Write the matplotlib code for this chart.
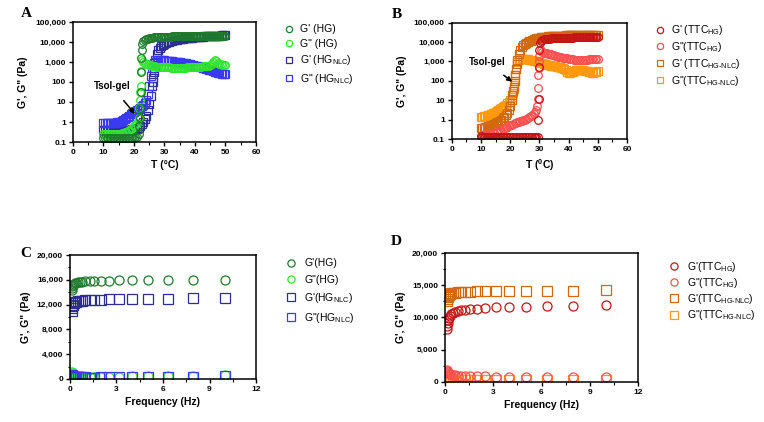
import matplotlib

matplotlib.use("Agg")
import matplotlib.pyplot as plt  # noqa: E402
import matplotlib.ticker as mticker  # noqa: E402

# temperature grid of the sweeps (deg C), 0.5 degree steps
T_sweep = [10.0, 10.5, 11.0, 11.5, 12.0, 12.5, 13.0, 13.5, 14.0, 14.5, 15.0, 15.5, 16.0, 16.5,
           17.0, 17.5, 18.0, 18.5, 19.0, 19.5, 20.0, 20.5, 21.0, 21.5, 22.0, 22.5, 23.0, 23.5,
           24.0, 24.5, 25.0, 25.5, 26.0, 26.5, 27.0, 27.5, 28.0, 28.5, 29.0, 29.5, 30.0, 30.5,
           31.0, 31.5, 32.0, 32.5, 33.0, 33.5, 34.0, 34.5, 35.0, 35.5, 36.0, 36.5, 37.0, 37.5,
           38.0, 38.5, 39.0, 39.5, 40.0, 40.5, 41.0, 41.5, 42.0, 42.5, 43.0, 43.5, 44.0, 44.5,
           45.0, 45.5, 46.0, 46.5, 47.0, 47.5, 48.0, 48.5, 49.0, 49.5, 50.0]

# ---------------- panel A: HG / HG-NLC ----------------
gp_hg_T = [0.16, 0.15, 0.15, 0.15, 0.15, 0.15, 0.15, 0.15, 0.15, 0.15, 0.15, 0.15, 0.15, 0.15,
           0.15, 0.15, 0.15, 0.15, 0.15, 0.16, 0.16, 0.17, 0.18, 0.25, 1.5, 4000, 11000, 13000,
           14000, 14800, 15500, 16000, 16400, 16800, 17100, 17400, 17600, 17800, 18000, 18200,
           18400, 18500, 18600, 18700, 18800, 18900, 19000, 19100, 19200, 19300, 19400, 19500,
           19550, 19600, 19650, 19700, 19750, 19800, 19850, 19900, 19950, 20000, 20050, 20100,
           20150, 20200, 20250, 20300, 20350, 20400, 20450, 20500, 20500, 20550, 20600, 20600,
           20650, 20700, 20700, 20750, 20800]
T_hg_gp_jump = [21.8, 22.1, 22.2, 22.3, 22.4, 22.7]
gp_hg_jump = [0.6, 5, 30, 300, 1500, 8000]

gpp_hg_T = [0.26, 0.25, 0.25, 0.25, 0.25, 0.25, 0.25, 0.25, 0.25, 0.25, 0.25, 0.26, 0.27, 0.28,
            0.3, 0.32, 0.35, 0.4, 0.45, 0.5, 0.6, 0.7, 0.9, 1.5, 12, 1300, 1000, 900, 800, 750,
            700, 680, 650, 630, 600, 590, 580, 570, 560, 555, 550, 545, 540, 535, 530, 525, 520,
            520, 520, 520, 520, 520, 525, 530, 530, 535, 540, 545, 550, 550, 555, 560, 570, 580,
            590, 600, 610, 620, 640, 660, 700, 800, 1000, 1300, 1100, 900, 800, 760, 730, 710,
            700]
T_hg_gpp_jump = [21.8, 22.1, 22.2, 22.3]
gpp_hg_jump = [5, 30, 60, 350]

gp_nlc_T = [0.42, 0.4, 0.4, 0.4, 0.4, 0.4, 0.4, 0.4, 0.4, 0.4, 0.4, 0.4, 0.4, 0.4, 0.4, 0.4,
            0.4, 0.41, 0.42, 0.43, 0.44, 0.45, 0.47, 0.5, 0.6, 0.75, 1.0, 1.4, 2, 4, 8, 20, 60,
            300, 1000, 2500, 4000, 5000, 6000, 7000, 8000, 8800, 9500, 10200, 11000, 11500,
            12000, 12500, 13000, 13500, 14000, 14400, 14800, 15200, 15500, 15800, 16100, 16400,
            16700, 17000, 17300, 17600, 17900, 18200, 18500, 18700, 18900, 19100, 19300, 19500,
            19700, 19900, 20100, 20300, 20500, 20700, 20900, 21100, 21300, 21500, 21700]
T_nlc_gp_jump = [26.2, 26.3, 26.7, 26.8]
gp_nlc_jump = [100, 160, 500, 700]

gpp_nlc_T = [0.92, 0.9, 0.9, 0.9, 0.9, 0.9, 0.9, 0.9, 0.9, 0.95, 1.0, 1.05, 1.1, 1.25, 1.4, 1.6,
             1.8, 2.1, 2.4, 2.7, 3, 3.5, 4, 4.5, 5, 6, 7, 9, 12, 25, 60, 200, 500, 900, 1200,
             1250, 1300, 1300, 1300, 1250, 1200, 1180, 1150, 1130, 1100, 1080, 1050, 1030, 1000,
             980, 950, 930, 900, 870, 850, 820, 800, 760, 720, 690, 650, 620, 600, 570, 550, 520,
             500, 470, 450, 420, 400, 380, 350, 330, 310, 290, 280, 270, 260, 255, 250]

# ---------------- panel B: TTC-HG / TTC-HG-NLC ----------------
gp_ttc_T = [0.14, 0.13, 0.13, 0.13, 0.13, 0.13, 0.13, 0.13, 0.13, 0.13, 0.13, 0.13, 0.13, 0.13,
            0.13, 0.13, 0.13, 0.13, 0.13, 0.13, 0.13, 0.13, 0.13, 0.13, 0.13, 0.13, 0.13, 0.13,
            0.13, 0.13, 0.13, 0.13, 0.13, 0.13, 0.13, 0.13, 0.13, 0.13, 0.13, 0.13, 4000, 12000,
            13000, 13800, 14300, 14700, 15000, 15300, 15600, 15800, 16000, 16200, 16300, 16400,
            16500, 16600, 16700, 16800, 16900, 17000, 17000, 17100, 17200, 17200, 17300, 17400,
            17400, 17500, 17500, 17600, 17600, 17700, 17700, 17800, 17800, 17900, 17900, 18000,
            18000, 18000, 18000]
T_ttc_gp_jump = [29.7, 29.8, 29.9, 30.2]
gp_ttc_jump = [1, 12, 500, 9000]

gpp_ttc_T = [0.15, 0.155, 0.16, 0.165, 0.17, 0.175, 0.18, 0.19, 0.2, 0.21, 0.22, 0.235, 0.25,
             0.27, 0.3, 0.32, 0.35, 0.37, 0.4, 0.45, 0.5, 0.55, 0.6, 0.65, 0.7, 0.75, 0.8, 0.85,
             0.9, 0.95, 1.0, 1.1, 1.2, 1.35, 1.5, 1.75, 2.0, 2.5, 3.0, 12, 2000, 4000, 3000, 2800,
             2700, 2600, 2500, 2400, 2300, 2200, 2100, 2000, 1900, 1800, 1700, 1650, 1600, 1550,
             1500, 1450, 1400, 1350, 1300, 1280, 1260, 1240, 1220, 1200, 1200, 1200, 1200, 1220,
             1240, 1260, 1280, 1300, 1320, 1350, 1380, 1400, 1400]
T_ttc_gpp_jump = [29.3, 29.6, 29.7, 29.8, 29.9]
gpp_ttc_jump = [5, 45, 200, 450, 1000]

gp_ttcn_T = [0.35, 0.36, 0.38, 0.4, 0.42, 0.45, 0.48, 0.51, 0.55, 0.6, 0.65, 0.72, 0.8, 0.9,
             1.0, 1.2, 1.4, 1.8, 2.2, 3, 5, 10, 30, 100, 400, 1200, 2500, 4000, 5500, 6800,
             8000, 9000, 10000, 11000, 12000, 13000, 14000, 14800, 15500, 16200, 17000, 17500,
             18000, 18400, 18800, 19200, 19500, 19800, 20000, 20300, 20500, 20800, 21000, 21200,
             21300, 21500, 21600, 21800, 21900, 22000, 22100, 22200, 22300, 22400, 22500, 22600,
             22700, 22800, 22900, 23000, 23100, 23200, 23300, 23400, 23500, 23500, 23600, 23700,
             23700, 23800, 23800]
T_ttcn_gp_jump = [20.8, 21.2, 21.7, 22.2]
gp_ttcn_jump = [18, 50, 200, 700]

gpp_ttcn_T = [1.3, 1.37, 1.45, 1.52, 1.6, 1.7, 1.8, 1.95, 2.1, 2.3, 2.5, 2.75, 3.0, 3.4, 3.8,
              4.4, 5.0, 6.0, 7.0, 8.5, 10, 15, 25, 100, 400, 900, 1200, 1300, 1400, 1400, 1400,
              1350, 1300, 1250, 1200, 1150, 1100, 1050, 1000, 950, 900, 850, 800, 750, 700, 680,
              650, 630, 600, 600, 600, 580, 550, 520, 500, 480, 450, 400, 350, 300, 250, 250,
              280, 300, 330, 350, 350, 350, 350, 350, 350, 340, 330, 320, 300, 280, 260, 250, 280,
              300, 320]
T_ttcn_gpp_jump = [21.2, 21.3, 21.7]
gpp_ttcn_jump = [40, 60, 200]

# ---------------- frequency sweeps (panels C, D) ----------------
freq = [0.1, 0.126, 0.158, 0.2, 0.251, 0.316, 0.398, 0.501, 0.631, 0.794, 1.0, 1.26, 1.58,
        2.0, 2.51, 3.16, 3.98, 5.01, 6.31, 7.94, 10.0]

gp_hg_f = [14300, 14700, 15000, 15200, 15350, 15450, 15550, 15600, 15650, 15700, 15750, 15780,
           15800, 15830, 15860, 15900, 15930, 15960, 15990, 16020, 16000]
gpp_hg_f = [1050, 900, 800, 700, 620, 560, 510, 470, 440, 420, 400, 390, 385, 385, 390, 400,
            420, 450, 490, 550, 650]
gp_nlc_f = [11000, 11500, 11800, 12000, 12200, 12350, 12450, 12550, 12600, 12650, 12700, 12750,
            12780, 12810, 12840, 12870, 12900, 12930, 12960, 12990, 13020]
gpp_nlc_f = [600, 500, 430, 380, 340, 310, 290, 270, 260, 250, 245, 240, 240, 245, 250, 260,
             280, 300, 330, 380, 450]

gp_ttc_f = [8200, 8700, 9200, 9600, 9950, 10250, 10500, 10700, 10850, 11000, 11100, 11200,
            11300, 11380, 11450, 11550, 11620, 11700, 11780, 11850, 11950]
gpp_ttc_f = [1900, 1700, 1520, 1380, 1280, 1200, 1130, 1070, 1020, 980, 950, 920, 900, 880,
             860, 850, 840, 830, 820, 810, 800]
gp_ttcn_f = [12500, 12900, 13200, 13400, 13550, 13650, 13750, 13800, 13850, 13900, 13950,
             13980, 14000, 14030, 14050, 14080, 14100, 14120, 14150, 14170, 14200]
gpp_ttcn_f = [1000, 800, 650, 550, 480, 420, 380, 350, 330, 310, 300, 290, 280, 280, 280, 280,
              280, 280, 290, 300, 320]

C_HG1, C_HG2 = "#1f7a2c", "#2ee62e"
C_NLC1, C_NLC2 = "#2d2d96", "#3a3af2"
C_TTC1, C_TTC2 = "#c41414", "#ff4f4f"
C_TTN1, C_TTN2 = "#d2690a", "#ff9a10"

plt.rcParams.update({
    "font.family": "Liberation Sans",
    "mathtext.fontset": "custom",
    "mathtext.rm": "Liberation Sans",
    "axes.linewidth": 1.1,
    "xtick.major.width": 1.0,
    "ytick.major.width": 1.0,
    "xtick.minor.width": 0.8,
    "ytick.minor.width": 0.8,
    "xtick.major.size": 3,
    "ytick.major.size": 3,
    "xtick.minor.size": 1.8,
    "ytick.minor.size": 1.8,
})

fig = plt.figure(figsize=(7.64, 4.22), dpi=100)
axA = fig.add_axes([0.0955, 0.6635, 0.2395, 0.2844])
axB = fig.add_axes([0.5912, 0.6706, 0.2295, 0.2756])
axC = fig.add_axes([0.0916, 0.1019, 0.2435, 0.2938])
axD = fig.add_axes([0.5825, 0.0948, 0.2526, 0.3057])

TICK = dict(fontsize=6, fontweight="bold")
LAB = dict(fontsize=7.5, fontweight="bold")


def pts(ax, x, y, marker, color, ms):
    return ax.plot(x, y, ls="none", marker=marker, mfc="none", mec=color, ms=ms, mew=0.9)[0]


def sweep(ax, y, tj, yj, marker, color):
    # main 0.5-degree series plus the extra points read on the sol-gel jump
    h = pts(ax, T_sweep, y, marker, color, 5.5)
    pts(ax, tj, yj, marker, color, 5.5)
    return h


def temp_axes(ax, xlabel):
    ax.set_yscale("log")
    ax.set_xlim(0, 60)
    ax.set_ylim(0.1, 100000)
    ax.set_xticks(range(0, 61, 10))
    ax.xaxis.set_minor_locator(mticker.MultipleLocator(5))
    ax.set_yticks([0.1, 1, 10, 100, 1000, 10000, 100000])
    ax.set_yticklabels(["0.1", "1", "10", "100", "1,000", "10,000", "100,000"], **TICK)
    ax.yaxis.set_minor_locator(mticker.LogLocator(subs=(3.16,)))
    ax.yaxis.set_minor_formatter(mticker.NullFormatter())
    ax.set_xticklabels([str(v) for v in range(0, 61, 10)], **TICK)
    ax.set_xlabel(xlabel, labelpad=3, **LAB)
    ax.set_ylabel("G', G\" (Pa)", labelpad=5, **LAB)
    ax.tick_params(which="both", pad=2)


def freq_axes(ax, yt, ylabels):
    ax.set_xlim(0, 12)
    ax.set_ylim(0, 20000)
    ax.set_xticks([0, 3, 6, 9, 12])
    ax.set_xticklabels(["0", "3", "6", "9", "12"], **TICK)
    ax.xaxis.set_minor_locator(mticker.MultipleLocator(1.5))
    ax.set_yticks(yt)
    ax.set_yticklabels(ylabels, **TICK)
    ax.yaxis.set_minor_locator(mticker.MultipleLocator(yt[1] / 2))
    ax.set_xlabel("Frequency (Hz)", labelpad=3, **LAB)
    ax.set_ylabel("G', G\" (Pa)", labelpad=4, **LAB)
    ax.tick_params(which="both", pad=2)


def legend(ax, handles, labels, x, y, ms_scale, spacing, pad):
    ax.legend(handles, labels, loc="upper left", bbox_to_anchor=(x, y),
              bbox_transform=fig.transFigure, frameon=False, fontsize=7.5,
              handlelength=1.0, handletextpad=pad, labelspacing=spacing,
              markerscale=ms_scale, borderpad=0, borderaxespad=0)


ARROW = dict(arrowstyle="-|>", color="black", lw=1.1, mutation_scale=7, shrinkA=6, shrinkB=0)

# ---- A ----
h3 = sweep(axA, gp_nlc_T, T_nlc_gp_jump, gp_nlc_jump, "s", C_NLC1)
h4 = sweep(axA, gpp_nlc_T, [], [], "s", C_NLC2)
h2 = sweep(axA, gpp_hg_T, T_hg_gpp_jump, gpp_hg_jump, "o", C_HG2)
h1 = sweep(axA, gp_hg_T, T_hg_gp_jump, gp_hg_jump, "o", C_HG1)
temp_axes(axA, "T (°C)")
axA.annotate("Tsol-gel", xy=(20.3, 2.5), xytext=(12.8, 60), fontsize=7, fontweight="bold",
             ha="center", va="center", arrowprops=ARROW)
legend(axA, [h1, h2, h3, h4],
       ["G' (HG)", "G\" (HG)", "G' (HG$_\\mathregular{NLC}$)", "G\" (HG$_\\mathregular{NLC}$)"],
       0.372, 0.942, 0.82, 0.42, 0.55)

# ---- B ----
k4 = sweep(axB, gpp_ttcn_T, T_ttcn_gpp_jump, gpp_ttcn_jump, "s", C_TTN2)
k3 = sweep(axB, gp_ttcn_T, T_ttcn_gp_jump, gp_ttcn_jump, "s", C_TTN1)
k2 = sweep(axB, gpp_ttc_T, T_ttc_gpp_jump, gpp_ttc_jump, "o", C_TTC2)
k1 = sweep(axB, gp_ttc_T, T_ttc_gp_jump, gp_ttc_jump, "o", C_TTC1)
temp_axes(axB, "T ($^\\mathregular{0}$C)")
axB.annotate("Tsol-gel", xy=(20.7, 90), xytext=(12.1, 900), fontsize=7, fontweight="bold",
             ha="center", va="center", arrowprops=ARROW)
legend(axB, [k1, k2, k3, k4],
       ["G' (TTC$_\\mathregular{HG}$)", "G\"(TTC$_\\mathregular{HG}$)",
        "G' (TTC$_\\mathregular{HG\\text{-}NLC}$)", "G\"(TTC$_\\mathregular{HG\\text{-}NLC}$)"],
       0.857, 0.945, 0.82, 0.28, 0.55)

# ---- C ----
c1 = pts(axC, freq, gp_hg_f, "o", C_HG1, 6.5)
c2 = pts(axC, freq, gpp_hg_f, "o", C_HG2, 6.5)
c3 = pts(axC, freq, gp_nlc_f, "s", C_NLC1, 6.5)
c4 = pts(axC, freq, gpp_nlc_f, "s", C_NLC2, 6.5)
freq_axes(axC, [0, 4000, 8000, 12000, 16000, 20000],
          ["0", "4,000", "8,000", "12,000", "16,000", "20,000"])
legend(axC, [c1, c2, c3, c4],
       ["G'(HG)", "G\"(HG)", "G'(HG$_\\mathregular{NLC}$)", "G\"(HG$_\\mathregular{NLC}$)"],
       0.374, 0.388, 0.8, 0.6, 0.8)

# ---- D ----
d4 = pts(axD, freq, gpp_ttcn_f, "s", C_TTN2, 6.5)
d3 = pts(axD, freq, gp_ttcn_f, "s", C_TTN1, 6.5)
d2 = pts(axD, freq, gpp_ttc_f, "o", C_TTC2, 6.5)
d1 = pts(axD, freq, gp_ttc_f, "o", C_TTC1, 6.5)
freq_axes(axD, [0, 5000, 10000, 15000, 20000], ["0", "5,000", "10,000", "15,000", "20,000"])
legend(axD, [d1, d2, d3, d4],
       ["G'(TTC$_\\mathregular{HG}$)", "G\"(TTC$_\\mathregular{HG}$)",
        "G'(TTC$_\\mathregular{HG\\text{-}NLC}$)", "G\"(TTC$_\\mathregular{HG\\text{-}NLC}$)"],
       0.875, 0.385, 0.8, 0.22, 0.8)

PANEL = dict(fontsize=11, fontweight="bold", family="Liberation Serif", va="baseline")
fig.text(0.027, 0.96, "A", **PANEL)
fig.text(0.513, 0.957, "B", **PANEL)
fig.text(0.026, 0.391, "C", **PANEL)
fig.text(0.512, 0.42, "D", **PANEL)

fig.savefig("out.png", dpi=100)
